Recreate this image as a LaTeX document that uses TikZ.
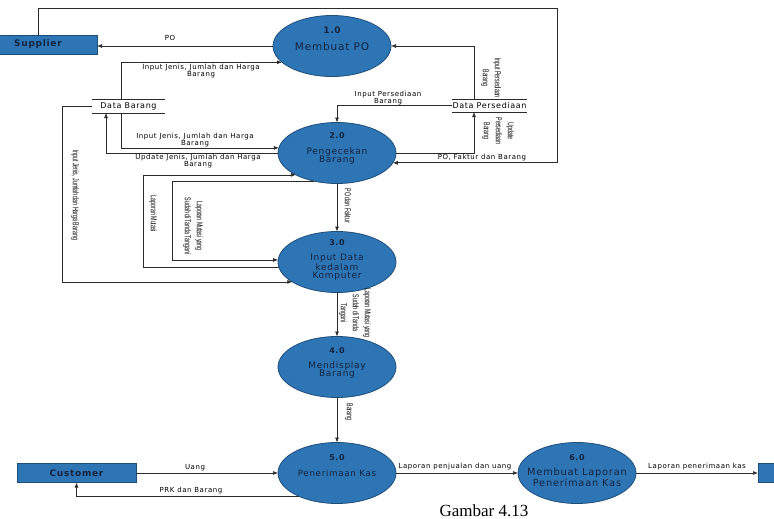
\documentclass[tikz,border=0pt]{standalone}
\usepackage{fontspec}
\setmainfont{DejaVu Sans}
\newfontfamily\lblfont[LetterSpace=8]{DejaVu Sans}
\newfontfamily\vfont[FakeStretch=0.62]{Liberation Sans}
\newfontfamily\capfont{Liberation Serif}
\usetikzlibrary{shapes.geometric,arrows.meta,calc}
\definecolor{procblue}{HTML}{2E75B6}
\definecolor{procedge}{HTML}{1F4E79}
\definecolor{txtnavy}{HTML}{14243F}
\definecolor{wire}{HTML}{2B2B2B}
\tikzset{
  proc/.style={ellipse, draw=procedge, line width=0.8pt, fill=procblue,
    minimum width=118pt, minimum height=61pt, inner sep=0pt, outer sep=0pt},
  ptxt/.style={text=txtnavy, inner sep=0pt, align=center},
  ent/.style={rectangle, draw=procedge, line width=0.8pt, fill=procblue,
    inner sep=0pt, outer sep=0pt, text=txtnavy,
    font=\lblfont\bfseries\fontsize{9}{11}\selectfont},
  store/.style={inner sep=0pt, outer sep=0pt, text=black,
    font=\lblfont\fontsize{8}{10}\selectfont},
  storeline/.style={draw=wire, line width=0.8pt},
  lbl/.style={inner sep=0pt, align=center, text=black,
    font=\lblfont\fontsize{7}{7}\selectfont},
  vlbl/.style={inner sep=0pt, align=center, rotate=-90, text=black,
    font=\vfont\fontsize{8.5}{12}\selectfont},
  flow/.style={draw=wire, line width=0.7pt, -{Latex[length=5pt,width=4pt]}},
}
\begin{document}
\begin{tikzpicture}[x=1pt,y=-1pt]
\useasboundingbox (0,0) rectangle (774,519);
\clip (0,0) rectangle (774,519);

% external entities
\node[ent, minimum width=118pt, minimum height=19pt] (sup) at (38,44.5) {Supplier};
\node[ent, minimum width=119pt, minimum height=19pt] (cust) at (76.5,473) {Customer};
\node[ent, minimum width=40pt, minimum height=19pt] (ext) at (778,473) {};

% data stores
\node[store, minimum width=73pt, minimum height=14pt] (ds1) at (128.5,106) {Data Barang};
\node[store, minimum width=75pt, minimum height=13pt] (ds2) at (489.5,105.5) {Data Persediaan};
\draw[storeline] (ds1.north west) -- (ds1.north east) (ds1.south west) -- (ds1.south east);
\draw[storeline] (ds2.north west) -- (ds2.north east) (ds2.south west) -- (ds2.south east);

% processes
\node[proc] (p1) at (332,46) {};
\node[proc] (p2) at (337,153) {};
\node[proc] (p3) at (337,262) {};
\node[proc] (p4) at (337,367) {};
\node[proc] (p5) at (337,473) {};
\node[proc] (p6) at (577,473) {};

\node[ptxt, font=\lblfont\bfseries\fontsize{9}{10}\selectfont] (p1n) at (332,30) {1.0};
\node[ptxt, font=\lblfont\fontsize{10.5}{11}\selectfont] (p1t) at (332,47) {Membuat PO};
\node[ptxt, font=\lblfont\bfseries\fontsize{8}{10}\selectfont] (p2n) at (337,136) {2.0};
\node[ptxt, font=\lblfont\fontsize{9}{8.5}\selectfont] (p2t) at (337,156) {Pengecekan\\Barang};
\node[ptxt, font=\lblfont\bfseries\fontsize{8}{10}\selectfont] (p3n) at (337,243) {3.0};
\node[ptxt, font=\lblfont\fontsize{9}{8}\selectfont] (p3t) at (337,267) {Input Data\\kedalam\\Komputer};
\node[ptxt, font=\lblfont\bfseries\fontsize{8}{10}\selectfont] (p4n) at (337,351) {4.0};
\node[ptxt, font=\lblfont\fontsize{9}{8.5}\selectfont] (p4t) at (337,370) {Mendisplay\\Barang};
\node[ptxt, font=\lblfont\bfseries\fontsize{8}{10}\selectfont] (p5n) at (337,458) {5.0};
\node[ptxt, font=\lblfont\fontsize{8.7}{9}\selectfont] (p5t) at (337,473) {Penerimaan Kas};
\node[ptxt, font=\lblfont\bfseries\fontsize{8}{10}\selectfont] (p6n) at (577,458) {6.0};
\node[ptxt, font=\lblfont\fontsize{9.8}{9}\selectfont] (p6t) at (577,477.5) {Membuat Laporan\\Penerimaan Kas};

% connectors
\coordinate (tr) at (557,8);
\draw[flow] (p1.west) -- (sup.east |- p1.west);
\draw[flow] (sup.north) |- (tr) |- (p2.-10);
\draw[flow] ([xshift=-15.5pt]ds2.north) |- (p1.east);
\draw[flow] (ds2.west) -| (p2.north);
\draw[flow] ([xshift=-7.5pt]ds1.north) |- (p1.198);
\draw[flow] ([xshift=-7.5pt]ds1.south) |- (p2.175);
\draw[flow] (p2.west) -| ([xshift=-22.5pt]ds1.south);
\draw[flow] (ds1.west) -- ++(-30,0) |- (p3.204);
\draw[flow] (p3.185) -- ++(-135,0) |- (p2.208);
\draw[flow] (p2.230) -- ++(-141,0) |- (p3.178);
\draw[flow] (p2.east) -| ([xshift=-15.5pt]ds2.south);
\draw[flow] (p2.south) -- (p3.north);
\draw[flow] (p3.south) -- (p4.north);
\draw[flow] (p4.south) -- (p5.north);
\draw[flow] (cust.east) -- (p5.west);
\draw[flow] (p5.211) -| (cust.south);
\draw[flow] (p5.east) -- (p6.west);
\draw[flow] (p6.east) -- (ext.west);

% horizontal labels
\node[lbl] (lpo) at (170,38) {PO};
\node[lbl] (l1) at (201,71) {Input Jenis, Jumlah dan Harga\\Barang};
\node[lbl] (l2) at (388,98.5) {Input Persediaan\\Barang};
\node[lbl] (l3) at (195,140.5) {Input Jenis, Jumlah dan Harga\\Barang};
\node[lbl] (l4) at (198,161.5) {Update Jenis, Jumlah dan Harga\\Barang};
\node[lbl] (l5) at (482,158) {PO, Faktur dan Barang};
\node[lbl] (l6) at (195,468) {Uang};
\node[lbl] (l7) at (191,491) {PRK dan Barang};
\node[lbl] (l8) at (455,467) {Laporan penjualan dan uang};
\node[lbl] (l9) at (697,467) {Laporan penerimaan kas};

% vertical labels
\node[vlbl] (v1) at (75,195) {Input Jenis, Jumlah dan Harga Barang};
\node[vlbl] (v2) at (153,214) {Laporan Mutasi};
\node[vlbl] (v3) at (193,226) {Laporan Mutasi yang\\Sudah di Tanda Tangani};
\node[vlbl] (v4) at (348,206) {PO dan Faktur};
\node[vlbl] (v5) at (355,313) {Laporan Mutasi yang\\Sudah di Tanda\\Tangani};
\node[vlbl] (v6) at (349,412) {Barang};
\node[vlbl] (v7) at (491,78) {Input Persediaan\\Barang};
\node[vlbl] (v8) at (498,131) {Update\\Persediaan\\Barang};

% caption
\node[inner sep=0pt, font=\capfont\fontsize{17}{17}\selectfont] (cap) at (484,511) {Gambar 4.13};
\end{tikzpicture}
\end{document}
